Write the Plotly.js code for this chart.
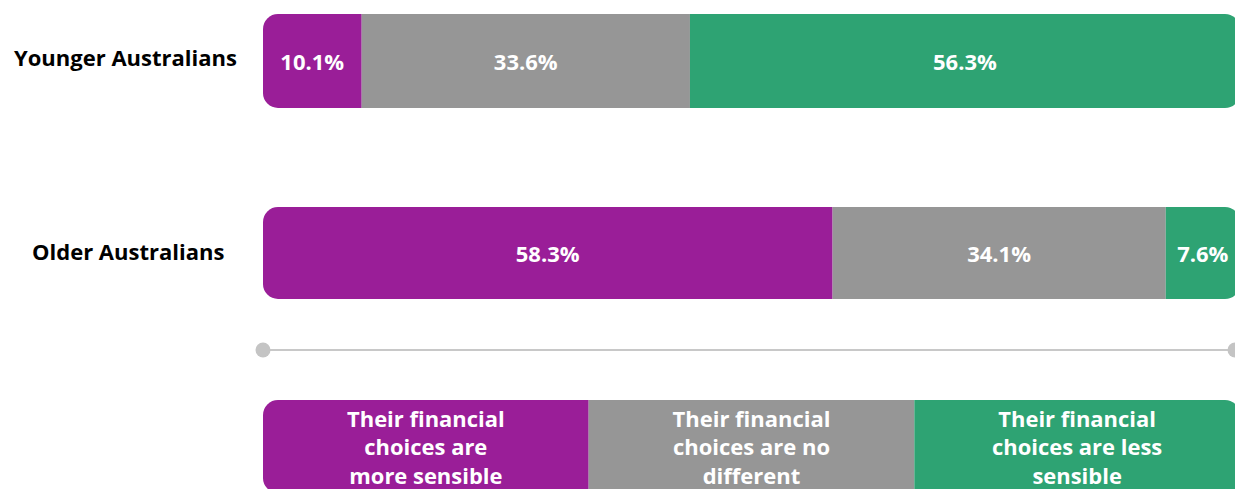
<!DOCTYPE html>
<html><head><meta charset="utf-8">
<script src="https://cdn.plot.ly/plotly-3.0.1.min.js"></script>
<style>html,body{margin:0;padding:0;background:#fff;overflow:hidden}#chart{width:1240px;height:489px}</style>
</head><body><div id="chart"></div>
<script>
const groups = ['Younger Australians', 'Older Australians'];
const moreSensible = [10.1, 58.3];
const noDifferent = [33.6, 34.1];
const lessSensible = [56.3, 7.6];
const keyLabels = [
  'Their financial<br>choices are<br>more sensible',
  'Their financial<br>choices are no<br>different',
  'Their financial<br>choices are less<br>sensible'
];
const colors = ['#9A1E98', '#969696', '#2EA373'];

const FONT = '"Open Sans", Lato, sans-serif';
const pct = v => v.toFixed(1) + '%';
const textFont = {family: FONT, size: 22, color: '#ffffff', weight: 700};
const common = {
  type: 'bar', orientation: 'h', width: 1, hoverinfo: 'skip',
  textposition: 'inside', insidetextanchor: 'middle', constraintext: 'none',
  texttemplate: '%{text}', textfont: textFont, textangle: 0
};
const traces = [];
const axisIds = [['x', 'y'], ['x2', 'y2']];
groups.forEach((g, i) => {
  const [xa, ya] = axisIds[i];
  // purple drawn leftwards (negative side) so its outer end is rounded
  traces.push(Object.assign({}, common, {xaxis: xa, yaxis: ya, y: [g], x: [-moreSensible[i]], text: [pct(moreSensible[i])],
    marker: {color: colors[0], cornerradius: 15, line: {width: 0}}}));
  traces.push(Object.assign({}, common, {xaxis: xa, yaxis: ya, y: [g], x: [noDifferent[i]], text: [pct(noDifferent[i])],
    marker: {color: colors[1], cornerradius: 15, line: {width: 0}}}));
  traces.push(Object.assign({}, common, {xaxis: xa, yaxis: ya, y: [g], x: [lessSensible[i]], text: [pct(lessSensible[i])],
    marker: {color: colors[2], cornerradius: 15, line: {width: 0}}}));
});
// divider line
traces.push({
  type: 'scatter', mode: 'lines+markers', x: [0, 100], y: [0, 0],
  xaxis: 'x3', yaxis: 'y3', hoverinfo: 'skip', cliponaxis: false,
  line: {color: '#C8C8C8', width: 2}, marker: {color: '#C4C4C4', size: 15}
});
// key bar: three equal segments
keyLabels.forEach((lab, i) => {
  traces.push(Object.assign({}, common, {
    xaxis: 'x4', yaxis: 'y4', y: ['key'], x: [i === 0 ? -1 : 1],
    text: [lab], textfont: Object.assign({}, textFont, {size: 22}),
    marker: {color: colors[i], cornerradius: 15, line: {width: 0}}
  }));
});

const H = 489, PW = 977;
const dom = (top, bot) => [1 - bot / H, 1 - top / H];
const hid = {visible: false, fixedrange: true};
const layout = {
  width: 1240, height: 489,
  margin: {l: 263, r: 0, t: 0, b: 0, pad: 0},
  paper_bgcolor: '#ffffff', plot_bgcolor: '#ffffff',
  barmode: 'relative', showlegend: false,
  font: {family: FONT},
  xaxis: Object.assign({range: [-moreSensible[0], noDifferent[0] + lessSensible[0]], anchor: 'y'}, hid),
  yaxis: Object.assign({type: 'category', range: [-0.5, 0.5], domain: dom(14, 108), anchor: 'x'}, hid),
  xaxis2: Object.assign({range: [-moreSensible[1], noDifferent[1] + lessSensible[1]], anchor: 'y2'}, hid),
  yaxis2: Object.assign({type: 'category', range: [-0.5, 0.5], domain: dom(207, 299), anchor: 'x2'}, hid),
  xaxis3: Object.assign({range: [0, 100], anchor: 'y3', domain: [0, 972 / PW]}, hid),
  yaxis3: Object.assign({range: [-1, 1], domain: dom(330, 370), anchor: 'x3'}, hid),
  xaxis4: Object.assign({range: [-1, 2], anchor: 'y4'}, hid),
  yaxis4: Object.assign({type: 'category', range: [-0.457, 0.5], domain: dom(400, 489), anchor: 'x4'}, hid),
  annotations: [
    {text: groups[0], xref: 'paper', yref: 'y', x: (125 - 263) / PW, y: groups[0], yshift: 4,
     xanchor: 'center', yanchor: 'middle', showarrow: false,
     font: {family: FONT, size: 22, color: '#000000', weight: 700}},
    {text: groups[1], xref: 'paper', yref: 'y2', x: (127.5 - 263) / PW, y: groups[1], yshift: 2,
     xanchor: 'center', yanchor: 'middle', showarrow: false,
     font: {family: FONT, size: 22, color: '#000000', weight: 700}}
  ]
};
Plotly.newPlot('chart', traces, layout, {displayModeBar: false, staticPlot: true});
</script></body></html>
